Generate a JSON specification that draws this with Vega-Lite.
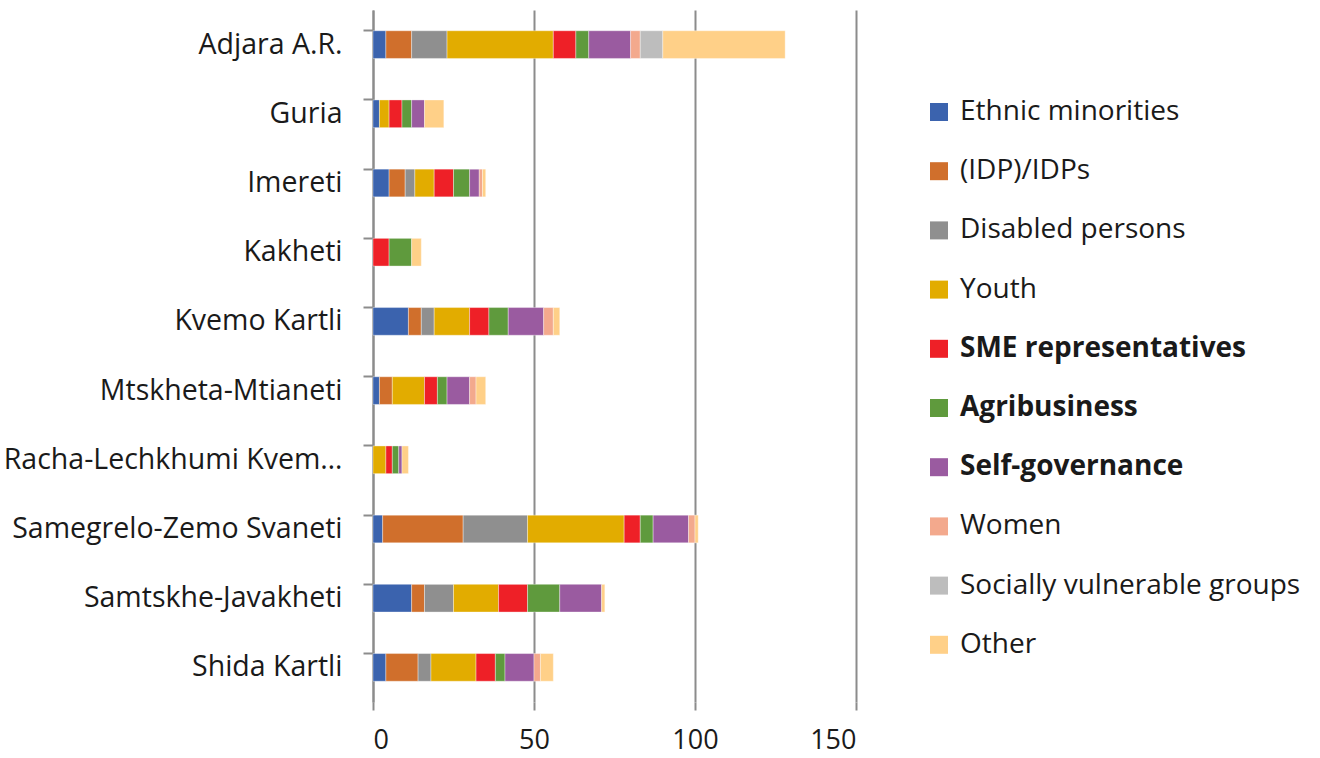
{
  "$schema": "https://vega.github.io/schema/vega-lite/v6.json",
  "width": 483,
  "height": 692,
  "autosize": {"type": "none"},
  "padding": {"left": 373, "top": 10, "right": 464, "bottom": 56},
  "background": "white",
  "config": {
    "font": "Open Sans",
    "view": {"stroke": null}
  },
  "data": {
    "values": [
      {"region": "Adjara A.R.", "group": "Ethnic minorities", "k": 1, "value": 4},
      {"region": "Adjara A.R.", "group": "(IDP)/IDPs", "k": 2, "value": 8},
      {"region": "Adjara A.R.", "group": "Disabled persons", "k": 3, "value": 11},
      {"region": "Adjara A.R.", "group": "Youth", "k": 4, "value": 33},
      {"region": "Adjara A.R.", "group": "SME representatives", "k": 5, "value": 7},
      {"region": "Adjara A.R.", "group": "Agribusiness", "k": 6, "value": 4},
      {"region": "Adjara A.R.", "group": "Self-governance", "k": 7, "value": 13},
      {"region": "Adjara A.R.", "group": "Women", "k": 8, "value": 3},
      {"region": "Adjara A.R.", "group": "Socially vulnerable groups", "k": 9, "value": 7},
      {"region": "Adjara A.R.", "group": "Other", "k": 10, "value": 38},

      {"region": "Guria", "group": "Ethnic minorities", "k": 1, "value": 2},
      {"region": "Guria", "group": "Youth", "k": 4, "value": 3},
      {"region": "Guria", "group": "SME representatives", "k": 5, "value": 4},
      {"region": "Guria", "group": "Agribusiness", "k": 6, "value": 3},
      {"region": "Guria", "group": "Self-governance", "k": 7, "value": 4},
      {"region": "Guria", "group": "Other", "k": 10, "value": 6},

      {"region": "Imereti", "group": "Ethnic minorities", "k": 1, "value": 5},
      {"region": "Imereti", "group": "(IDP)/IDPs", "k": 2, "value": 5},
      {"region": "Imereti", "group": "Disabled persons", "k": 3, "value": 3},
      {"region": "Imereti", "group": "Youth", "k": 4, "value": 6},
      {"region": "Imereti", "group": "SME representatives", "k": 5, "value": 6},
      {"region": "Imereti", "group": "Agribusiness", "k": 6, "value": 5},
      {"region": "Imereti", "group": "Self-governance", "k": 7, "value": 3},
      {"region": "Imereti", "group": "Women", "k": 8, "value": 1},
      {"region": "Imereti", "group": "Other", "k": 10, "value": 1},

      {"region": "Kakheti", "group": "SME representatives", "k": 5, "value": 5},
      {"region": "Kakheti", "group": "Agribusiness", "k": 6, "value": 7},
      {"region": "Kakheti", "group": "Other", "k": 10, "value": 3},

      {"region": "Kvemo Kartli", "group": "Ethnic minorities", "k": 1, "value": 11},
      {"region": "Kvemo Kartli", "group": "(IDP)/IDPs", "k": 2, "value": 4},
      {"region": "Kvemo Kartli", "group": "Disabled persons", "k": 3, "value": 4},
      {"region": "Kvemo Kartli", "group": "Youth", "k": 4, "value": 11},
      {"region": "Kvemo Kartli", "group": "SME representatives", "k": 5, "value": 6},
      {"region": "Kvemo Kartli", "group": "Agribusiness", "k": 6, "value": 6},
      {"region": "Kvemo Kartli", "group": "Self-governance", "k": 7, "value": 11},
      {"region": "Kvemo Kartli", "group": "Women", "k": 8, "value": 3},
      {"region": "Kvemo Kartli", "group": "Other", "k": 10, "value": 2},

      {"region": "Mtskheta-Mtianeti", "group": "Ethnic minorities", "k": 1, "value": 2},
      {"region": "Mtskheta-Mtianeti", "group": "(IDP)/IDPs", "k": 2, "value": 4},
      {"region": "Mtskheta-Mtianeti", "group": "Youth", "k": 4, "value": 10},
      {"region": "Mtskheta-Mtianeti", "group": "SME representatives", "k": 5, "value": 4},
      {"region": "Mtskheta-Mtianeti", "group": "Agribusiness", "k": 6, "value": 3},
      {"region": "Mtskheta-Mtianeti", "group": "Self-governance", "k": 7, "value": 7},
      {"region": "Mtskheta-Mtianeti", "group": "Women", "k": 8, "value": 2},
      {"region": "Mtskheta-Mtianeti", "group": "Other", "k": 10, "value": 3},

      {"region": "Racha-Lechkhumi Kvemo Svaneti", "group": "Youth", "k": 4, "value": 4},
      {"region": "Racha-Lechkhumi Kvemo Svaneti", "group": "SME representatives", "k": 5, "value": 2},
      {"region": "Racha-Lechkhumi Kvemo Svaneti", "group": "Agribusiness", "k": 6, "value": 2},
      {"region": "Racha-Lechkhumi Kvemo Svaneti", "group": "Self-governance", "k": 7, "value": 1},
      {"region": "Racha-Lechkhumi Kvemo Svaneti", "group": "Other", "k": 10, "value": 2},

      {"region": "Samegrelo-Zemo Svaneti", "group": "Ethnic minorities", "k": 1, "value": 3},
      {"region": "Samegrelo-Zemo Svaneti", "group": "(IDP)/IDPs", "k": 2, "value": 25},
      {"region": "Samegrelo-Zemo Svaneti", "group": "Disabled persons", "k": 3, "value": 20},
      {"region": "Samegrelo-Zemo Svaneti", "group": "Youth", "k": 4, "value": 30},
      {"region": "Samegrelo-Zemo Svaneti", "group": "SME representatives", "k": 5, "value": 5},
      {"region": "Samegrelo-Zemo Svaneti", "group": "Agribusiness", "k": 6, "value": 4},
      {"region": "Samegrelo-Zemo Svaneti", "group": "Self-governance", "k": 7, "value": 11},
      {"region": "Samegrelo-Zemo Svaneti", "group": "Women", "k": 8, "value": 2},
      {"region": "Samegrelo-Zemo Svaneti", "group": "Other", "k": 10, "value": 1},

      {"region": "Samtskhe-Javakheti", "group": "Ethnic minorities", "k": 1, "value": 12},
      {"region": "Samtskhe-Javakheti", "group": "(IDP)/IDPs", "k": 2, "value": 4},
      {"region": "Samtskhe-Javakheti", "group": "Disabled persons", "k": 3, "value": 9},
      {"region": "Samtskhe-Javakheti", "group": "Youth", "k": 4, "value": 14},
      {"region": "Samtskhe-Javakheti", "group": "SME representatives", "k": 5, "value": 9},
      {"region": "Samtskhe-Javakheti", "group": "Agribusiness", "k": 6, "value": 10},
      {"region": "Samtskhe-Javakheti", "group": "Self-governance", "k": 7, "value": 13},
      {"region": "Samtskhe-Javakheti", "group": "Other", "k": 10, "value": 1},

      {"region": "Shida Kartli", "group": "Ethnic minorities", "k": 1, "value": 4},
      {"region": "Shida Kartli", "group": "(IDP)/IDPs", "k": 2, "value": 10},
      {"region": "Shida Kartli", "group": "Disabled persons", "k": 3, "value": 4},
      {"region": "Shida Kartli", "group": "Youth", "k": 4, "value": 14},
      {"region": "Shida Kartli", "group": "SME representatives", "k": 5, "value": 6},
      {"region": "Shida Kartli", "group": "Agribusiness", "k": 6, "value": 3},
      {"region": "Shida Kartli", "group": "Self-governance", "k": 7, "value": 9},
      {"region": "Shida Kartli", "group": "Women", "k": 8, "value": 2},
      {"region": "Shida Kartli", "group": "Other", "k": 10, "value": 4}
    ]
  },
  "mark": {"type": "bar", "stroke": "white", "strokeWidth": 0.6, "strokeOpacity": 0.6},
  "encoding": {
    "y": {
      "field": "region",
      "type": "nominal",
      "sort": ["Adjara A.R.", "Guria", "Imereti", "Kakheti", "Kvemo Kartli", "Mtskheta-Mtianeti", "Racha-Lechkhumi Kvemo Svaneti", "Samegrelo-Zemo Svaneti", "Samtskhe-Javakheti", "Shida Kartli"],
      "scale": {"paddingInner": 0.6, "paddingOuter": 0.3},
      "axis": {
        "title": null,
        "domain": true,
        "domainColor": "#8c8c8c",
        "domainWidth": 2,
        "ticks": true,
        "bandPosition": 0,
        "tickSize": 10,
        "tickColor": "#8c8c8c",
        "tickWidth": 2,
        "labelFontSize": 28.5,
        "labelColor": "#1a1a1a",
        "labelPadding": 21,
        "labelLimit": 352,
        "grid": false
      }
    },
    "x": {
      "field": "value",
      "type": "quantitative",
      "aggregate": "sum",
      "stack": "zero",
      "scale": {"domain": [0, 150], "nice": false},
      "axis": {
        "title": null,
        "values": [0, 50, 100, 150],
        "domain": false,
        "grid": true,
        "gridColor": "#8c8c8c",
        "gridWidth": 2,
        "ticks": true,
        "tickSize": 8,
        "tickColor": "#8c8c8c",
        "tickWidth": 2,
        "labelFontSize": 27,
        "labelColor": "#1a1a1a",
        "labelPadding": 17
      }
    },
    "color": {
      "field": "group",
      "type": "nominal",
      "scale": {
        "domain": ["Ethnic minorities", "(IDP)/IDPs", "Disabled persons", "Youth", "SME representatives", "Agribusiness", "Self-governance", "Women", "Socially vulnerable groups", "Other"],
        "range": ["#3B63AE", "#D06F2C", "#8F8F8F", "#E2AC00", "#EE2027", "#5F9A3D", "#9A5BA0", "#F3A98D", "#BDBDBD", "#FFD088"]
      },
      "legend": {
        "title": null,
        "orient": "none",
        "legendX": 552,
        "legendY": 88,
        "symbolType": "square",
        "symbolSize": 324,
        "symbolStrokeWidth": 0,
        "labelFontSize": 28,
        "labelColor": "#1a1a1a",
        "labelOffset": 7,
        "labelFontWeight": {"expr": "indexof(['SME representatives','Agribusiness','Self-governance'], datum.value) >= 0 ? 'bold' : 'normal'"},
        "rowPadding": 31.2,
        "labelLimit": 420,
        "padding": 0
      }
    },
    "order": {"field": "k", "type": "quantitative"}
  }
}
